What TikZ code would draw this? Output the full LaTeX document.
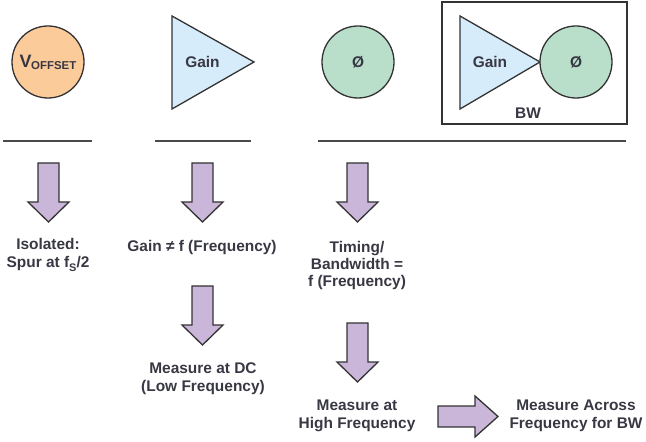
\documentclass[tikz,border=0pt]{standalone}
\usepackage{fontspec}
\setmainfont{Liberation Sans}
\definecolor{orangefill}{HTML}{FCCB9A}
\definecolor{bluefill}{HTML}{D7ECFA}
\definecolor{greenfill}{HTML}{B9DFCA}
\definecolor{purplefill}{HTML}{C9B6D9}
\definecolor{edgec}{HTML}{333333}
\definecolor{rulec}{HTML}{4A4A4A}
\definecolor{txtc}{HTML}{383844}
\tikzset{
  shapeline/.style={draw=edgec, line width=1.3bp, line join=miter},
  circ/.style={shapeline, circle, minimum size=72bp, inner sep=0pt},
  lbl/.style={font=\fontsize{15.5}{17.5}\selectfont\bfseries, text=txtc, align=center, inner sep=0pt},
  sym/.style={font=\fontsize{15.5}{15.5}\selectfont\bfseries, text=txtc, inner sep=0pt},
  sepline/.style={draw=rulec, line width=1.5bp},
  blockarrow/.style={shapeline, fill=purplefill},
  pics/downarr/.style={code={
    \draw[blockarrow] (-10.5,0) -- (10.5,0) -- (10.5,39) -- (20.5,39) -- (0,59)
      -- (-20.5,39) -- (-10.5,39) -- cycle;}},
}
\begin{document}
\begin{tikzpicture}[x=1bp, y=-1bp]
\useasboundingbox (0,0) rectangle (646,442);
% top row shapes
\node[circ, fill=orangefill] (voff) at (48,62) {};
\node[text=txtc, font=\bfseries, inner sep=0pt] (voffl) at (48,62)
  {{\fontsize{18}{18}\selectfont V}\kern-0.5bp\raisebox{-0.2em}{\fontsize{11.5}{11.5}\selectfont OFFSET}};
\draw[shapeline, fill=bluefill] (172,16) -- (254,62) -- (172,109) -- cycle;
\node[lbl] (gainl) at (202.5,62) {Gain};
\node[circ, fill=greenfill] (phi) at (358,62) {};
\node[sym] (phil) at (358,62) {\char"00D8};
% BW box
\node[draw=edgec, line width=1.5bp, minimum width=185bp, minimum height=122bp, inner sep=0pt] (bwbox) at (534.5,63) {};
\draw[shapeline, fill=bluefill] (460,16) -- (540,62) -- (460,109) -- cycle;
\node[lbl] (gain2) at (490,62) {Gain};
\node[circ, fill=greenfill] (phi2) at (576,62) {};
\node[sym] (phi2l) at (576,62) {\char"00D8};
\node[lbl] (bwl) at (528,113) {BW};
% separator lines
\coordinate (l1a) at (3,141); \coordinate (l1b) at (92,141);
\coordinate (l2a) at (155,141); \coordinate (l2b) at (251,141);
\coordinate (l3a) at (318,141); \coordinate (l3b) at (626,141);
\draw[sepline] (l1a) -- (l1b);
\draw[sepline] (l2a) -- (l2b);
\draw[sepline] (l3a) -- (l3b);
% down arrows
\pic at (48.5,163) {downarr};
\pic at (202.5,163) {downarr};
\pic at (357.5,163) {downarr};
\pic at (202.5,286) {downarr};
\pic at (357.5,323) {downarr};
% right arrow
\draw[blockarrow] (438,406) -- (475,406) -- (475,396) -- (498,416.5) -- (475,437)
  -- (475,427) -- (438,427) -- cycle;
% texts
\node[lbl] (iso) at (48,255) {Isolated:\\Spur at f\raisebox{-0.25em}{\fontsize{11}{11}\selectfont S}/2};
\node[lbl] (gainf) at (202,248) {Gain ≠ f (Frequency)};
\node[lbl] (timing) at (357,265.5) {Timing/\\Bandwidth =\\f (Frequency)};
\node[lbl] (dc) at (203,378.5) {Measure at DC\\(Low Frequency)};
\node[lbl] (hf) at (357,416) {Measure at\\High Frequency};
\node[lbl] (across) at (576,416) {Measure Across\\Frequency for BW};
\end{tikzpicture}
\end{document}
